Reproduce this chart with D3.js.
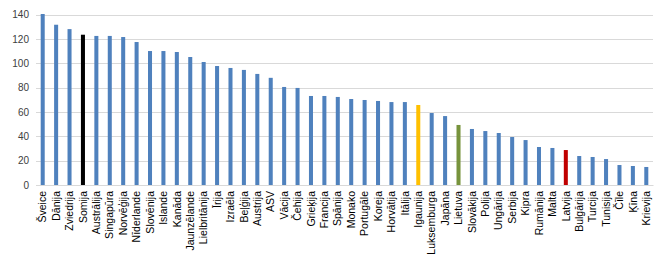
<!DOCTYPE html>
<html><head><meta charset="utf-8">
<script src="https://cdn.jsdelivr.net/npm/d3@7"></script>
<style>body{margin:0;background:#fff}svg{display:block}</style>
</head><body>
<script>
const categories = ["Šveice","Dānija","Zviedrija","Somija","Austrālija","Singapūra","Norvēģija","Nīderlande","Slovēnija","Islande","Kanāda","Jaunzēlande","Lielbritānija","Īrija","Izraēla","Beļģija","Austrija","ASV","Vācija","Čehija","Grieķija","Francija","Spānija","Monako","Portugāle","Koreja","Horvātija","Itālija","Igaunija","Luksemburga","Japāna","Lietuva","Slovākija","Polija","Ungārija","Serbija","Kipra","Rumānija","Malta","Latvija","Bulgārija","Turcija","Tunisija","Čīle","Ķīna","Krievija"];
const values = [140.4,131.6,128,123.4,122.4,122.4,121.5,117.4,110,110,109.2,105.1,101,97.7,96.1,94.5,91.2,88,80.5,79.7,73.1,73.1,72.3,70.6,69.8,69,68.1,68.1,65.7,59.1,56.6,49.3,46,44.3,42.7,39.4,36.9,31.2,30.4,28.7,23.8,23,21.3,16.4,15.6,14.8];
const highlights = {"Somija":"#000000","Igaunija":"#FFC000","Lietuva":"#77933C","Latvija":"#C00000"};
const yTicks = [0,20,40,60,80,100,120,140];

const W=667,H=266, mLeft=36, mRight=653, mTop=14.5, mBottom=185;
const svg=d3.select("body").append("svg").attr("width",W).attr("height",H);
const x=d3.scaleBand().domain(categories).range([mLeft,mRight]).paddingInner(0.7).paddingOuter(0.35);
const y=d3.scaleLinear().domain([0,140]).range([mBottom,mTop]);

svg.append("g").selectAll("line").data(yTicks).join("line")
  .attr("x1",mLeft).attr("x2",mRight).attr("y1",d=>Math.round(y(d))+0.5).attr("y2",d=>Math.round(y(d))+0.5)
  .attr("stroke","#D9D9D9").attr("stroke-width",1);

const yAxis=svg.append("g").attr("transform",`translate(${mLeft-7},0)`)
  .call(d3.axisLeft(y).tickValues(yTicks).tickSize(0).tickPadding(0));
yAxis.select(".domain").remove();
yAxis.selectAll("text").attr("font-family","'Liberation Sans',Arial,sans-serif").attr("font-size","10px").attr("fill","#404040");

svg.append("g").selectAll("rect").data(categories).join("rect")
  .attr("x",d=>x(d)).attr("width",x.bandwidth())
  .attr("y",(d,i)=>y(values[i])).attr("height",(d,i)=>y(0)-y(values[i]))
  .attr("fill",d=>highlights[d]||"#4F81BD");

const xAxis=svg.append("g").attr("transform",`translate(0,${mBottom})`)
  .call(d3.axisBottom(x).tickSize(0).tickPadding(0));
xAxis.select(".domain").attr("stroke","#D9D9D9");
xAxis.selectAll("text")
  .attr("font-family","'Liberation Sans',Arial,sans-serif").attr("font-size","10.5px").attr("fill","#000")
  .attr("transform","rotate(-90)").attr("text-anchor","end").attr("dy","0.35em").attr("x",-6).attr("y",0);
</script>
</body></html>
